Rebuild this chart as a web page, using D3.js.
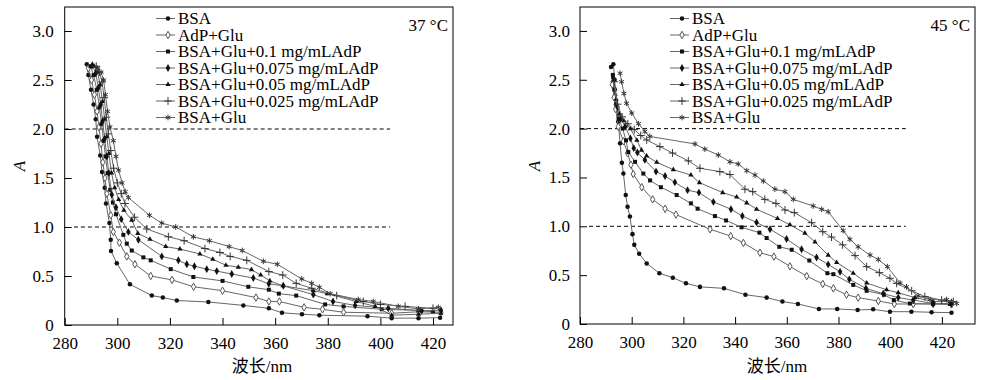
<!DOCTYPE html>
<html>
<head>
<meta charset="utf-8">
<script src="https://cdn.jsdelivr.net/npm/d3@7"></script>
<style>
  body { margin: 0; background: #fff; }
  text { font-family: "Liberation Serif", "Times New Roman", serif; fill: #000; }
  .cjk { font-family: "Liberation Serif", "Noto Sans CJK SC", serif; }
</style>
</head>
<body>
<script>
// legend labels, same order for both panels
var seriesNames = ["BSA", "AdP+Glu", "BSA+Glu+0.1 mg/mLAdP", "BSA+Glu+0.075 mg/mLAdP",
                   "BSA+Glu+0.05 mg/mLAdP", "BSA+Glu+0.025 mg/mLAdP", "BSA+Glu"];
var xTicks = [280, 300, 320, 340, 360, 380, 400, 420];
var yTicks = [0, 0.5, 1.0, 1.5, 2.0, 2.5, 3.0];
var refLines = [2.0, 1.0];
var titles = ["37 °C", "45 °C"];

// 37 °C  [wavelength nm, A]
var bsa37 = [[288.4,2.66],[289,2.55],[290,2.40],[291,2.25],[291.8,2.10],[292.3,1.92],[293.5,1.73],[294.2,1.56],
  [295.2,1.40],[295.7,1.24],[297,1.04],[297.5,0.87],[297.6,0.755],[299.8,0.63],[304.8,0.415],[313.1,0.30],
  [317.3,0.28],[322.6,0.25],[334.6,0.235],[347.9,0.20],[357.6,0.17],[362.6,0.125],[370.2,0.11],[376.8,0.10],
  [395.1,0.09],[404.3,0.07],[414.5,0.07],[422.7,0.075]];
var adp37 = [[289,2.62],[290.2,2.50],[291.3,2.35],[292.3,2.18],[293,2.02],[293.8,1.85],[294.5,1.66],[295.3,1.50],
  [296,1.34],[297.5,1.12],[298.5,0.95],[300.8,0.84],[303.6,0.70],[306.7,0.62],[312.7,0.50],[320.8,0.46],
  [329,0.39],[340,0.35],[352.7,0.28],[357.6,0.24],[361.6,0.24],[371,0.18],[378,0.16],[386,0.13],
  [404.3,0.12],[414.5,0.135],[423,0.13]];
var c01_37 = [[289.8,2.64],[291,2.55],[292.2,2.40],[293.2,2.22],[294,2.05],[294.8,1.88],[295.5,1.72],[296.3,1.55],
  [297.3,1.38],[298.3,1.25],[299.5,1.13],[302.3,0.92],[303.6,0.83],[305.5,0.76],[309.9,0.69],[312.7,0.66],
  [320.3,0.57],[328.9,0.49],[340,0.45],[349.8,0.39],[357.6,0.36],[361.4,0.32],[368,0.30],[379,0.21],
  [386,0.19],[400.5,0.16],[414.5,0.15],[420,0.135]];
var c0075_37 = [[290.5,2.65],[291.8,2.57],[292.8,2.42],[293.7,2.25],[294.4,2.08],[295.2,1.90],[296,1.72],[296.8,1.55],
  [297.9,1.33],[299.5,1.20],[301.5,1.08],[304.2,0.95],[308,0.87],[316.9,0.70],[323.2,0.66],[326.4,0.62],
  [329.3,0.60],[334,0.57],[337.8,0.55],[343.5,0.52],[351.7,0.48],[357.6,0.42],[363.1,0.40],[374.5,0.31],
  [382,0.24],[390.4,0.20],[403,0.17],[415.7,0.146],[423,0.15]];
var c005_37 = [[291.2,2.64],[292.5,2.58],[293.5,2.45],[294.4,2.28],[295.2,2.10],[296,1.92],[296.8,1.75],[297.8,1.55],
  [299,1.40],[300.5,1.28],[302.5,1.17],[305.5,1.07],[307.8,0.935],[312.4,0.875],[318.4,0.80],[323.8,0.775],
  [331.4,0.725],[336.3,0.67],[341.3,0.61],[346,0.59],[351,0.565],[354.5,0.51],[358,0.45],[363,0.40],
  [374.5,0.35],[379.8,0.32],[390.8,0.24],[398,0.19],[404.3,0.10],[414.5,0.11],[423,0.12]];
var c0025_37 = [[292,2.64],[293.2,2.58],[294.2,2.48],[295,2.32],[295.8,2.12],[296.6,1.95],[297.5,1.78],[298.6,1.60],
  [300,1.45],[301.5,1.34],[302.9,1.24],[306.5,1.10],[311.2,0.98],[319.4,0.90],[325.4,0.86],[333.3,0.78],
  [339,0.74],[342.9,0.70],[349.2,0.66],[357.6,0.545],[362.9,0.51],[368,0.425],[373.9,0.375],[383.4,0.30],
  [393.5,0.24],[400,0.21],[409.4,0.19],[420,0.17]];
var glu37 = [[292.5,2.62],[293.8,2.58],[294.8,2.50],[295.5,2.35],[296.3,2.18],[297.2,2.02],[298.5,1.88],[299.5,1.72],
  [300.5,1.58],[301.8,1.45],[303,1.36],[304.2,1.30],[312.2,1.12],[316.9,1.04],[322.2,1.00],[328.9,0.90],
  [335,0.86],[342.5,0.80],[347.5,0.76],[355.5,0.65],[360.8,0.62],[370.1,0.47],[373.9,0.425],[376.8,0.385],
  [380.9,0.32],[391.6,0.26],[397.3,0.24],[406.8,0.19],[414.5,0.165],[422,0.18]];

// 45 °C
var bsa45 = [[292,2.63],[292.9,2.66],[293.4,2.50],[293.6,2.34],[294.2,2.20],[294.8,2.07],[295.5,1.85],[296.2,1.65],
  [296.8,1.54],[297.7,1.32],[298.4,1.20],[299.3,1.10],[300.3,0.92],[301,0.81],[302.9,0.72],[305.8,0.62],
  [310.7,0.52],[315.9,0.474],[321,0.416],[326.4,0.38],[335.7,0.365],[344,0.30],[352.2,0.27],[358.3,0.23],
  [364.3,0.205],[372.4,0.154],[379.5,0.154],[387.4,0.143],[393.4,0.15],[399.9,0.126],[408.2,0.126],
  [416,0.12],[423.7,0.116]];
var adp45 = [[292.5,2.45],[293.2,2.32],[293.8,2.20],[294.8,2.02],[296.8,1.87],[298.4,1.75],[299.7,1.63],[300.6,1.535],
  [303.9,1.40],[308.1,1.276],[312.9,1.18],[317.1,1.12],[330.3,0.97],[338.3,0.90],[343.2,0.83],[349.6,0.73],
  [355,0.69],[361.2,0.59],[367.7,0.49],[373.9,0.41],[378,0.365],[383.1,0.30],[387.6,0.27],[395.4,0.235],
  [401.6,0.205],[408.9,0.205],[416.6,0.205],[423.7,0.2]];
var c01_45 = [[292.7,2.55],[293.3,2.40],[294,2.25],[295,2.10],[296.5,2.0],[297.8,1.88],[298.7,1.76],[301.3,1.66],
  [304.5,1.54],[307.1,1.47],[311.3,1.40],[317.4,1.32],[322.9,1.235],[325.5,1.18],[332.2,1.105],[336.5,1.06],
  [342.5,0.99],[349.4,0.935],[352.2,0.88],[357.1,0.79],[361.9,0.76],[368.7,0.65],[375.7,0.52],[378,0.51],
  [385.7,0.40],[390.9,0.34],[397.6,0.30],[401.4,0.245],[407.6,0.21],[416.6,0.205],[423.1,0.205]];
var c0075_45 = [[292.8,2.52],[293.5,2.40],[294.5,2.22],[295.8,2.10],[297.5,2.02],[299.5,1.90],[300.8,1.80],[302.2,1.755],
  [305.1,1.68],[309.4,1.56],[312.9,1.515],[316.7,1.45],[321.6,1.37],[326,1.345],[331.6,1.25],[338.4,1.175],
  [342.8,1.105],[348.3,1.04],[353.5,0.97],[359.9,0.87],[365.7,0.765],[371.5,0.68],[376,0.61],[380.6,0.535],
  [384.2,0.457],[390.6,0.365],[397.3,0.31],[403.1,0.27],[408.9,0.245],[416.6,0.21],[423.7,0.21]];
var c005_45 = [[293,2.50],[294,2.30],[295.3,2.15],[297,2.08],[299.5,2.00],[302,1.88],[303.8,1.78],[305.8,1.72],
  [309.7,1.655],[316.1,1.58],[322.9,1.525],[326.2,1.447],[335.2,1.345],[340.6,1.30],[344.5,1.24],[348.3,1.175],
  [356.4,1.08],[361.2,1.015],[367,0.93],[370.9,0.84],[376,0.705],[379.3,0.63],[385.7,0.52],[390.9,0.42],
  [398.6,0.35],[403.1,0.32],[409.6,0.27],[416.6,0.23],[423.7,0.23]];
var c0025_45 = [[293.3,2.48],[294.5,2.25],[296.3,2.12],[298.5,2.05],[301,1.99],[303.5,1.93],[305.8,1.884],[310.9,1.816],
  [315.8,1.75],[321.9,1.67],[326.4,1.594],[334.1,1.56],[338,1.53],[343.8,1.38],[346.8,1.355],[351.5,1.276],
  [355.8,1.235],[359.3,1.167],[362.9,1.14],[369.6,1.037],[373.9,0.945],[377.3,0.89],[381.6,0.81],[386.4,0.70],
  [390.9,0.587],[395.8,0.526],[399.9,0.468],[402.5,0.416],[408.3,0.34],[413.4,0.28],[419.9,0.245],[424.4,0.23]];
var glu45 = [[295.5,2.567],[296.1,2.48],[297,2.36],[298,2.26],[300,2.16],[302.6,2.05],[305.1,1.97],[307,1.92],
  [324.5,1.843],[328.3,1.79],[333.5,1.73],[338,1.66],[341.2,1.638],[344.5,1.57],[347.7,1.525],[350.9,1.464],
  [355.4,1.38],[359.3,1.355],[362.5,1.276],[370.2,1.208],[373.5,1.174],[376,1.15],[381.8,0.956],[384.4,0.867],
  [387.6,0.79],[392.2,0.706],[395.4,0.66],[398.9,0.587],[403.8,0.42],[406.3,0.38],[410.8,0.287],[415.4,0.25],
  [421.8,0.25],[425.7,0.21]];

var data37 = [bsa37, adp37, c01_37, c0075_37, c005_37, c0025_37, glu37];
var data45 = [bsa45, adp45, c01_45, c0075_45, c005_45, c0025_45, glu45];

var W = 993, H = 380;

// marker look per series
var markers = [
  {type: d3.symbolCircle,   size: 16, fill: "#111", stroke: "none"},
  {type: d3.symbolDiamond,  size: 16, fill: "#fff", stroke: "#555"},
  {type: d3.symbolSquare,   size: 16, fill: "#111", stroke: "none"},
  {type: d3.symbolDiamond,  size: 18, fill: "#111", stroke: "none"},
  {type: d3.symbolTriangle, size: 12, fill: "#111", stroke: "none"},
  {type: d3.symbolPlus,     size: 22, fill: "none", stroke: "#333"},
  {type: d3.symbolAsterisk, size: 22, fill: "none", stroke: "#333"}
];

var panels = [
  {left: 64.7, right: 453, top: 7, bottom: 325, xMax: 427.6, pad: 11,
   data: data37, title: titles[0], legX: 156, aX: 25, xLabelX: 262},
  {left: 580, right: 975, top: 7, bottom: 324, xMax: 432.8, pad: 10,
   data: data45, title: titles[1], legX: 670, aX: 540, xLabelX: 777}
];

var svg = d3.select("body").append("svg")
    .attr("width", W)
    .attr("height", H);

panels.forEach(function(p) {
  var x = d3.scaleLinear().domain([280, p.xMax]).range([p.left, p.right]);
  var y = d3.scaleLinear().domain([0, 3.245]).range([p.bottom, p.top]);
  var g = svg.append("g");

  // axes with inward ticks
  g.append("g")
      .attr("transform", "translate(0," + p.bottom + ")")
      .call(d3.axisBottom(x).tickValues(xTicks).tickSizeInner(-7).tickSizeOuter(0).tickPadding(12))
      .call(function(a) { a.select(".domain").remove(); });
  g.append("g")
      .attr("transform", "translate(" + p.left + ",0)")
      .call(d3.axisLeft(y).tickValues(yTicks).tickSizeInner(-7).tickSizeOuter(0).tickPadding(p.pad)
        .tickFormat(function(d) { return d === 0 ? "0" : d.toFixed(1); }))
      .call(function(a) { a.select(".domain").remove(); });
  g.selectAll(".tick text").attr("font-size", 17).attr("font-family", null);
  g.selectAll(".tick line").attr("stroke", "#000");

  g.append("rect")
      .attr("x", p.left).attr("y", p.top)
      .attr("width", p.right - p.left).attr("height", p.bottom - p.top)
      .attr("fill", "none").attr("stroke", "#000").attr("stroke-width", 1);

  // dashed reference lines
  g.selectAll(".ref")
      .data(refLines)
    .enter().append("line")
      .attr("x1", function(d, i) { return x(i === 0 ? 280 : 283.5); })
      .attr("x2", x(p === panels[0] ? 403.7 : 406))
      .attr("y1", function(d) { return y(d); })
      .attr("y2", function(d) { return y(d); })
      .attr("stroke", "#000")
      .attr("stroke-dasharray", "4,3");

  var line = d3.line()
      .x(function(d) { return x(d[0]); })
      .y(function(d) { return y(d[1]); });

  // curves, drawn back to front
  p.data.forEach(function(s, i) {
    var m = markers[i];
    g.append("path")
        .attr("d", line(s))
        .attr("fill", "none")
        .attr("stroke", "#666")
        .attr("stroke-width", 1);
    g.selectAll(".m" + i)
        .data(s)
      .enter().append("path")
        .attr("transform", function(d) { return "translate(" + x(d[0]) + "," + y(d[1]) + ")"; })
        .attr("d", d3.symbol().type(m.type).size(m.size))
        .attr("fill", m.fill)
        .attr("stroke", m.stroke)
        .attr("stroke-width", 1);
  });

  // legend
  var leg = g.selectAll(".leg")
      .data(seriesNames)
    .enter().append("g")
      .attr("transform", function(d, i) { return "translate(" + p.legX + "," + (24 + i * 16.5) + ")"; });
  leg.append("line")
      .attr("x1", 0).attr("x2", 19)
      .attr("y1", -5.5).attr("y2", -5.5)
      .attr("stroke", "#666");
  leg.append("path")
      .attr("transform", "translate(12,-5.5)")
      .attr("d", function(d, i) { return d3.symbol().type(markers[i].type).size(markers[i].size)(); })
      .attr("fill", function(d, i) { return markers[i].fill; })
      .attr("stroke", function(d, i) { return markers[i].stroke; });
  leg.append("text")
      .attr("x", 22)
      .attr("font-size", 17)
      .text(function(d) { return d; });

  g.append("text")
      .attr("x", p.right - 5)
      .attr("y", 30.5)
      .attr("text-anchor", "end")
      .attr("font-size", 17)
      .text(p.title);

  g.append("text")
      .attr("transform", "translate(" + p.aX + ",166) rotate(-90)")
      .attr("text-anchor", "middle")
      .attr("font-size", 17)
      .attr("font-style", "italic")
      .text("A");

  g.append("text")
      .attr("class", "cjk")
      .attr("x", p.xLabelX)
      .attr("y", 372)
      .attr("text-anchor", "middle")
      .attr("font-size", 17)
      .text("波长/nm");
});
</script>
</body>
</html>
